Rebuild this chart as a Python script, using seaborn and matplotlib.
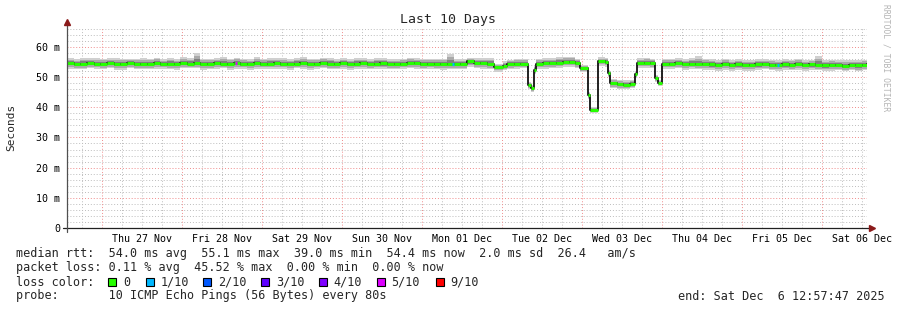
import numpy as np
import pandas as pd
import matplotlib
matplotlib.use("Agg")
import matplotlib.pyplot as plt
import seaborn as sns
from matplotlib.patches import Rectangle

# ---------------- data (hours relative to Thu 27 Nov 00:00) ----------------
left_hours = [-10.5, -8.5, -6.5, -4.5, -2.5, -0.5, 1.5, 3.5, 5.5, 7.5,
              9.5, 11.5, 13.5, 15.5, 17.5, 19.5, 21.5, 23.5, 25.5, 27.5,
              29.5, 31.5, 33.5, 35.5, 37.5, 39.5, 41.5, 43.5, 45.5, 47.5,
              49.5, 51.5, 53.5, 55.5, 57.5, 59.5, 61.5, 63.5, 65.5, 67.5,
              69.5, 71.5, 73.5, 75.5, 77.5, 79.5, 81.5, 83.5, 85.5, 87.5,
              89.5, 91.5, 93.5, 95.5, 97.5, 99.5, 101.5, 103.5, 105.5, 107.5,
              109.5, 111.5, 113.5, 115.5]
left_median = [54.6, 54.3, 54.5, 54.7, 54.4, 54.5, 54.6, 54.3, 54.5, 54.6,
               54.4, 54.2, 54.5, 54.6, 54.4, 54.5, 54.3, 54.6, 54.5, 54.7,
               54.4, 54.3, 54.6, 54.5, 54.4, 54.6, 54.5, 54.3, 54.6, 54.4,
               54.5, 54.7, 54.4, 54.3, 54.5, 54.6, 54.4, 54.5, 54.7, 54.5,
               54.3, 54.6, 54.4, 54.5, 54.6, 54.3, 54.5, 54.6, 54.4, 54.3,
               54.5, 54.6, 54.7, 54.4, 54.5, 54.3, 54.2, 54.4, 54.2, 54.3,
               55.2, 54.7, 54.6, 54.5]
left_up = [1.7, 1.6, 1.9, 1.5, 1.8, 1.6, 1.7, 2.0, 1.6, 1.5,
           1.7, 2.1, 1.6, 1.8, 1.5, 1.7, 1.6, 1.9, 1.7, 3.4,
           1.6, 1.8, 1.7, 2.3, 1.6, 1.8, 1.5, 1.7, 1.9, 1.6,
           1.7, 1.5, 1.8, 1.6, 1.7, 1.9, 1.6, 1.5, 1.7, 1.8,
           1.6, 1.7, 1.5, 1.8, 1.6, 1.7, 1.9, 1.6, 1.5, 1.7,
           1.6, 1.8, 1.5, 1.7, 1.6, 1.8, 1.9, 3.3, 1.7, 1.6,
           1.2, 1.5, 1.6, 1.7]
left_down = [1.8, 1.7, 1.9, 1.8, 1.6, 1.9, 1.7, 1.8, 2.0, 1.7,
             1.8, 1.6, 1.9, 1.8, 1.7, 1.9, 1.8, 1.7, 1.6, 1.8,
             1.9, 1.7, 1.8, 1.6, 1.9, 1.8, 1.7, 1.9, 1.8, 1.7,
             1.8, 1.9, 1.7, 1.8, 1.6, 1.8, 1.9, 1.7, 1.8, 1.9,
             1.7, 1.8, 1.9, 1.7, 1.8, 1.6, 1.7, 1.9, 1.8, 1.7,
             1.8, 1.7, 1.9, 1.8, 1.7, 1.6, 1.7, 1.8, 1.6, 1.7,
             1.8, 1.7, 1.8, 1.9]

event_hours = [117.5, 120.3, 121.5, 123.5, 125.5, 127.8, 128.7, 129.6, 130.2, 132.2,
               134.2, 136.2, 138.2, 140.2, 142.0, 143.4, 145.8, 146.4, 148.8, 150.8,
               151.8, 152.4, 154.4, 156.4, 158.4, 159.9, 160.5, 162.5, 164.5, 165.9,
               166.8, 168.0]
event_median = [53.2, 53.8, 54.3, 54.4, 54.5, 47.3, 46.3, 52.4, 54.4, 54.6,
                54.7, 54.8, 55.0, 55.1, 54.6, 52.9, 44.0, 39.2, 55.2, 55.0,
                51.3, 47.9, 47.6, 47.5, 47.8, 51.0, 54.7, 54.8, 54.6, 49.7,
                48.0, 54.4]
event_up = [1.3, 1.4, 1.5, 1.6, 1.5, 1.1, 1.0, 1.4, 1.6, 1.7,
            1.6, 1.8, 1.7, 1.6, 1.5, 1.2, 1.0, 0.9, 1.3, 1.4,
            1.1, 1.4, 1.5, 1.4, 1.3, 1.1, 1.5, 1.6, 1.5, 1.1,
            1.0, 1.6]
event_down = [1.4, 1.5, 1.6, 1.7, 1.6, 1.2, 1.1, 1.4, 1.7, 1.8,
              1.7, 1.8, 1.6, 1.7, 1.6, 1.3, 1.1, 1.0, 1.4, 1.5,
              1.2, 1.5, 1.6, 1.5, 1.4, 1.2, 1.6, 1.7, 1.6, 1.2,
              1.1, 1.7]

right_hours = [170, 172, 174, 176, 178, 180, 182, 184, 186, 188,
               190, 192, 194, 196, 198, 200, 202, 204, 206, 208,
               210, 212, 214, 216, 218, 220, 222, 224, 226, 228, 229.5]
right_median = [54.5, 54.6, 54.4, 54.5, 54.3, 54.4, 54.2, 54.1, 54.3, 54.0,
                54.2, 54.1, 54.0, 54.2, 54.3, 54.1, 54.0, 54.2, 54.1, 54.3,
                54.0, 54.2, 54.1, 53.9, 54.1, 54.0, 53.8, 54.0, 53.9, 54.1, 54.4]
right_up = [1.6, 1.7, 1.5, 1.8, 2.6, 1.6, 1.7, 1.5, 1.8, 1.6,
            1.7, 1.5, 1.6, 1.8, 1.7, 1.6, 1.5, 1.7, 1.6, 1.8,
            1.6, 1.5, 2.9, 1.7, 1.6, 1.5, 1.7, 1.6, 1.8, 1.6, 1.6]
right_down = [1.8, 1.7, 1.9, 1.8, 1.7, 1.9, 1.8, 2.0, 1.8, 1.9,
              1.8, 2.0, 1.9, 1.8, 1.7, 1.9, 2.0, 1.8, 1.9, 1.8,
              2.0, 1.9, 1.8, 1.9, 2.0, 1.8, 1.9, 1.8, 2.0, 1.9, 1.8]

# samples with packet loss (hour, loss class)
loss_hours = [40.1, 105.3, 202.7]
loss_levels = ["5/10", "1/10", "1/10"]

loss_labels = ["0", "1/10", "2/10", "3/10", "4/10", "5/10", "9/10"]
loss_colors = ["#26ff00", "#00b8ff", "#0059ff", "#5e00ff", "#7e00ff", "#dd00ff", "#ff0000"]

day_labels = ["Thu 27 Nov", "Fri 28 Nov", "Sat 29 Nov", "Sun 30 Nov", "Mon 01 Dec",
              "Tue 02 Dec", "Wed 03 Dec", "Thu 04 Dec", "Fri 05 Dec", "Sat 06 Dec"]
y_ticks = [0, 10, 20, 30, 40, 50, 60]
y_tick_labels = ["0", "10 m", "20 m", "30 m", "40 m", "50 m", "60 m"]

stats_rtt = "median rtt:  54.0 ms avg  55.1 ms max  39.0 ms min  54.4 ms now  2.0 ms sd  26.4   am/s"
stats_loss = "packet loss: 0.11 % avg  45.52 % max  0.00 % min  0.00 % now"
probe_text = "probe:       10 ICMP Echo Pings (56 Bytes) every 80s"
end_text = "end: Sat Dec  6 12:57:47 2025"

# ---------------- build frame ----------------
df = pd.DataFrame({
    "hours": left_hours + event_hours + right_hours,
    "median": left_median + event_median + right_median,
    "up": left_up + event_up + right_up,
    "down": left_down + event_down + right_down,
})

sns.set_style("white")
plt.rcParams["font.family"] = ["DejaVu Sans Mono", "DejaVu Sans"]

W, H = 897, 310
fig = plt.figure(figsize=(W / 100, H / 100), dpi=100)
fig.patch.set_facecolor("white")
ax = fig.add_axes([67 / W, 82 / H, 800 / W, 201 / H])
ax.set_facecolor("white")

XMIN, XMAX = -10.5, 229.5
YMAX = 66.6
ax.set_xlim(XMIN, XMAX)
ax.set_ylim(0, YMAX)

# grid
dot = (0, (1, 2))
for y in np.arange(2, YMAX, 2):
    if y % 10 == 0:
        continue
    ax.axhline(y, color="#bdbdbd", lw=0.7, ls=dot, zorder=0)
for x in np.arange(-6, XMAX, 6):
    if x % 24 == 0:
        continue
    ax.axvline(x, color="#bdbdbd", lw=0.7, ls=dot, zorder=0)
for y in y_ticks[1:]:
    ax.axhline(y, color="#f08c8c", lw=0.7, ls=dot, zorder=0.5)
for x in range(0, 229, 24):
    ax.axvline(x, color="#f08c8c", lw=0.7, ls=dot, zorder=0.5)

# smoke
h = df["hours"].to_numpy()
m = df["median"].to_numpy()
up = df["up"].to_numpy()
dn = df["down"].to_numpy()
ax.fill_between(h, m - dn, m + up, step="post", color="#d0d0d0", lw=0, zorder=1)
ax.fill_between(h, m - 0.7 * dn, m + 0.7 * up, step="post", color="#aaaaaa", lw=0, zorder=1.1)
ax.fill_between(h, m - 0.4 * dn, m + 0.4 * up, step="post", color="#808080", lw=0, zorder=1.2)

# median line
sns.lineplot(data=df, x="hours", y="median", drawstyle="steps-post", color="#101010",
             lw=1.3, estimator=None, sort=False, ax=ax, zorder=2)
ax.hlines(m[:-1], h[:-1], h[1:], color=loss_colors[0], lw=2.2, zorder=3)
for lh, lv in zip(loss_hours, loss_levels):
    idx = np.searchsorted(h, lh) - 1
    ax.hlines(m[idx], lh - 0.3, lh + 0.3, color=loss_colors[loss_labels.index(lv)], lw=2.2, zorder=4)

ax.set_xlabel("")
ax.set_ylabel("")
for s in ax.spines.values():
    s.set_visible(False)

# ticks
ax.set_yticks(y_ticks)
ax.set_yticklabels(y_tick_labels)
ax.tick_params(axis="y", length=0, pad=5, labelsize=7.2, colors="#000000")
ax.set_xticks(list(range(0, 229, 24)))
ax.set_xticklabels([])
ax.tick_params(axis="x", which="major", length=2.5, width=0.8, color="#303030", direction="out")
ax.set_xticks([12 + 24 * i for i in range(len(day_labels))], minor=True)
ax.set_xticklabels(day_labels, minor=True)
ax.tick_params(axis="x", which="minor", length=0, pad=4, labelsize=7.2, colors="#000000")

# axes lines and arrows
ax.plot([-4 / 800, 1.004], [0, 0], transform=ax.transAxes, color="#202020", lw=0.9, clip_on=False, zorder=5)
ax.plot([0, 0], [-4 / 201, 1.02], transform=ax.transAxes, color="#505050", lw=0.9, clip_on=False, zorder=5)
ax.plot([0], [1.025], marker="^", ms=4, color="#8b1a1a", transform=ax.transAxes, clip_on=False, zorder=6)
ax.plot([1.006], [0], marker=">", ms=4, color="#8b1a1a", transform=ax.transAxes, clip_on=False, zorder=6)

# texts
def fy(py):
    return 1 - py / H

fig.text(448 / W, fy(20), "Last 10 Days", ha="center", va="center", fontsize=9.5)
fig.text(11 / W, fy(127), "Seconds", rotation=90, ha="center", va="center", fontsize=8)
fig.text(886 / W, fy(4), "RRDTOOL / TOBI OETIKER", rotation=-90, ha="center", va="top",
         fontsize=5.8, color="#b4b4b4")

fs = 8.45
fig.text(16 / W, fy(254), stats_rtt, ha="left", va="center", fontsize=fs)
fig.text(16 / W, fy(268), stats_loss, ha="left", va="center", fontsize=fs)
fig.text(16 / W, fy(282), "loss color:", ha="left", va="center", fontsize=fs)
fig.text(16 / W, fy(296), probe_text, ha="left", va="center", fontsize=fs)
fig.text(678 / W, fy(296), end_text, ha="left", va="center", fontsize=fs)

sq_x = [108, 146, 203, 261, 319, 377, 436]
txt_x = [123, 161, 218, 276, 333, 391, 450]
for lab, col, sx, tx in zip(loss_labels, loss_colors, sq_x, txt_x):
    fig.add_artist(Rectangle((sx / W, 24 / H), 8 / W, 8 / H, transform=fig.transFigure,
                             facecolor=col, edgecolor="black", lw=0.8))
    fig.text(tx / W, fy(282), lab, ha="left", va="center", fontsize=fs)

fig.savefig("out.png", dpi=100, facecolor="white")
